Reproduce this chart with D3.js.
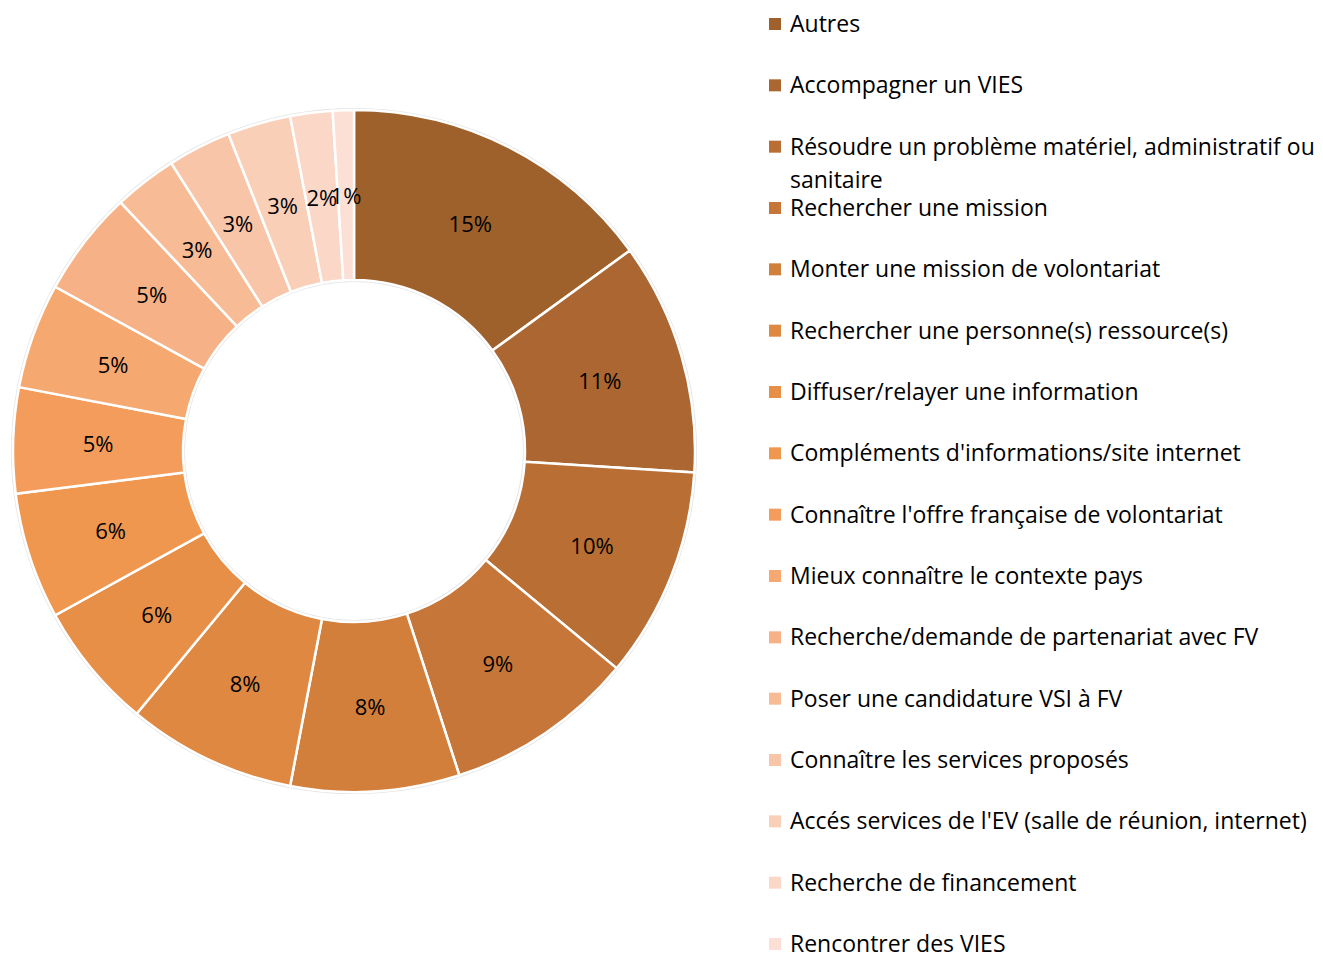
<!DOCTYPE html>
<html>
<head>
	<meta charset='utf-8'>
	<title>Donut</title>
	<script src='https://cdn.jsdelivr.net/npm/d3@7'></script>
	<style>
		body { margin: 0; background: #fff; }
		text { font-family: 'Open Sans', 'Noto Sans', sans-serif; }
	</style>
</head>
<body>
	<svg width='1323' height='953'></svg>
	<script>

		// categories (clockwise from 12 o'clock) and their shares in %
		const categories = ['Autres', 'Accompagner un VIES',
			'Résoudre un problème matériel, administratif ou|sanitaire',
			'Rechercher une mission', 'Monter une mission de volontariat',
			'Rechercher une personne(s) ressource(s)', 'Diffuser/relayer une information',
			"Compléments d'informations/site internet", "Connaître l'offre française de volontariat",
			'Mieux connaître le contexte pays', 'Recherche/demande de partenariat avec FV',
			'Poser une candidature VSI à FV', 'Connaître les services proposés',
			"Accés services de l'EV (salle de réunion, internet)", 'Recherche de financement',
			'Rencontrer des VIES']
		const values = [15, 11, 10, 9, 8, 8, 6, 6, 5, 5, 5, 3, 3, 3, 2, 1]
		const colors = ['#9e612b', '#ab6631', '#b96e34', '#c67638', '#d27f3c', '#de8842',
			'#e88f47', '#ef964f', '#f49c5c', '#f5a86f', '#f6b286', '#f7bb96',
			'#f9c5a8', '#facfb8', '#fbd7c7', '#fce0d6']

		const data = categories.map((c, i) => ({ name: c, value: values[i], color: colors[i] }))

		const svg = d3.select('svg')
		const cx = 354, cy = 451
		const outerR = 341, innerR = 171

		const pie = d3.pie().sort(null).value(d => d.value)
		const arc = d3.arc().innerRadius(innerR).outerRadius(outerR)
		const labelArc = d3.arc().innerRadius(256).outerRadius(256)

		const g = svg.append('g').attr('transform', `translate(${cx}, ${cy})`)

		// faint outline behind the ring
		g.append('circle').attr('r', outerR + 1).attr('fill', 'none').attr('stroke', '#e4e4e4').attr('stroke-width', 2)
		g.append('circle').attr('r', innerR - 1).attr('fill', 'none').attr('stroke', '#e4e4e4').attr('stroke-width', 2)

		const arcs = pie(data)

		g.selectAll('path')
			.data(arcs)
			.enter()
			.append('path')
			.attr('d', arc)
			.attr('fill', d => d.data.color)
			.attr('stroke', '#fff')
			.attr('stroke-width', 2.5)

		g.selectAll('text.pct')
			.data(arcs)
			.enter()
			.append('text')
			.attr('class', 'pct')
			.attr('transform', d => `translate(${labelArc.centroid(d)})`)
			.attr('text-anchor', 'middle')
			.attr('dominant-baseline', 'central')
			.attr('font-size', '22px')
			.attr('fill', '#000')
			.text(d => d.data.value + '%')

		// legend
		const legendY = d3.scalePoint().domain(d3.range(data.length)).range([24, 944])
		const legend = svg.append('g')
		const items = legend.selectAll('g')
			.data(data)
			.enter()
			.append('g')
			.attr('transform', (d, i) => `translate(769, ${legendY(i)})`)

		items.append('rect')
			.attr('x', 0).attr('y', -6)
			.attr('width', 12).attr('height', 12)
			.attr('fill', d => d.color)

		items.append('text')
			.attr('x', 21)
			.attr('font-size', '23px')
			.attr('fill', '#000')
			.selectAll('tspan')
			.data(d => d.name.split('|'))
			.enter()
			.append('tspan')
			.attr('x', 21)
			.attr('y', (t, j) => 8 + j * 33)
			.text(t => t)

	</script>
</body>
</html>
